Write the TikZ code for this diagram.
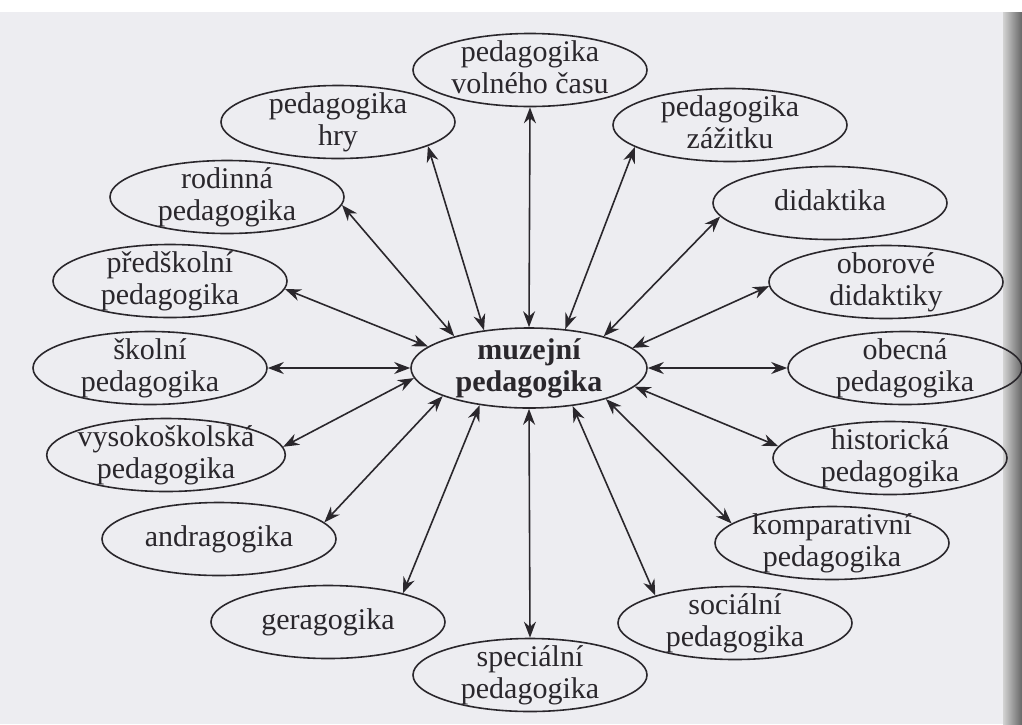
\documentclass[tikz,border=0pt]{standalone}
\usepackage{fontspec}
\setmainfont{Liberation Serif}
\usetikzlibrary{arrows.meta,shapes.geometric}
\definecolor{paper}{HTML}{EDEDF1}
\definecolor{ink}{HTML}{2A272C}
\tikzset{
  fld/.style ={ellipse,draw=ink,line width=1.6pt,align=center,text=ink,
               font=\fontsize{30}{32}\selectfont,inner xsep=-4pt,inner ysep=-7pt,
               minimum width=234pt,minimum height=73pt},
  hub/.style ={fld,font=\fontsize{30}{32}\selectfont\bfseries,
               minimum width=236pt,minimum height=80pt},
  ar/.style  ={<->,>={Stealth[length=16pt,width=12pt]},draw=ink,line width=1.6pt},
}
% same height and depth for every text line
\newcommand{\lstrut}{\rule[-7pt]{0pt}{28pt}}
\newcommand{\one}[1]{\lstrut#1}
\newcommand{\two}[2]{\lstrut#1\\\lstrut#2}

\begin{document}
\begin{tikzpicture}[x=1pt,y=-1pt]
\useasboundingbox (0,0) rectangle (1022,724);
% page
\fill[paper] (0,12) rectangle (1003,724);
\shade[left color=gray!35,right color=black!60] (1003,12) rectangle (1022,724);

% ---- centre -----------------------------------------------------------
\node[hub] (MUZ) at (529,368) {\two{muzejní}{pedagogika}};

% ---- upper half --------------------------------------------------------
\node[fld] (VOL)  at (530,70)  {\two{pedagogika}{volného času}};
\node[fld] (HRY)  at (338,122) {\two{pedagogika}{hry}};
\node[fld] (ZAZ)  at (730,125) {\two{pedagogika}{zážitku}};
\node[fld] (ROD)  at (227,197) {\two{rodinná}{pedagogika}};
\node[fld] (DID)  at (830,203) {\one{didaktika}};
\node[fld] (PRED) at (170,281) {\two{předškolní}{pedagogika}};
\node[fld] (OBOR) at (886,282) {\two{oborové}{didaktiky}};
\node[fld] (SKOL) at (150,368) {\two{školní}{pedagogika}};
\node[fld] (OBEC) at (905,368) {\two{obecná}{pedagogika}};

% ---- lower half --------------------------------------------------------
\node[fld] (VYS)  at (166,455) {\two{vysokoškolská}{pedagogika}};
\node[fld] (HIST) at (890,458) {\two{historická}{pedagogika}};
\node[fld] (ANDR) at (219,539) {\one{andragogika}};
\node[fld] (KOMP) at (832,543) {\two{komparativní}{pedagogika}};
\node[fld] (GER)  at (328,622) {\one{geragogika}};
\node[fld] (SOC)  at (735,623) {\two{sociální}{pedagogika}};
\node[fld] (SPEC) at (530,675) {\two{speciální}{pedagogika}};

% ---- edges -------------------------------------------------------------
\draw[ar] (VOL.south) -- (MUZ.north);
\draw[ar] (HRY.-15)   -- (MUZ.140);
\draw[ar] (ROD.-4)    -- (MUZ.157);
\draw[ar] (PRED.-4)   -- (MUZ.168);
\draw[ar] (SKOL.east) -- (MUZ.west);
\draw[ar] (VYS.4)     -- (MUZ.185);
\draw[ar] (ANDR.9)    -- (MUZ.198);
\draw[ar] (GER.21)    -- (MUZ.217);
\draw[ar] (SPEC.north) -- (MUZ.south);
\draw[ar] (SOC.161)   -- (MUZ.-41);
\draw[ar] (KOMP.169)  -- (MUZ.-22);
\draw[ar] (HIST.174)  -- (MUZ.-10);
\draw[ar] (OBEC.west) -- (MUZ.east);
\draw[ar] (OBOR.182)  -- (MUZ.11);
\draw[ar] (DID.187)   -- (MUZ.23);
\draw[ar] (ZAZ.193)   -- (MUZ.47);
\end{tikzpicture}
\end{document}
